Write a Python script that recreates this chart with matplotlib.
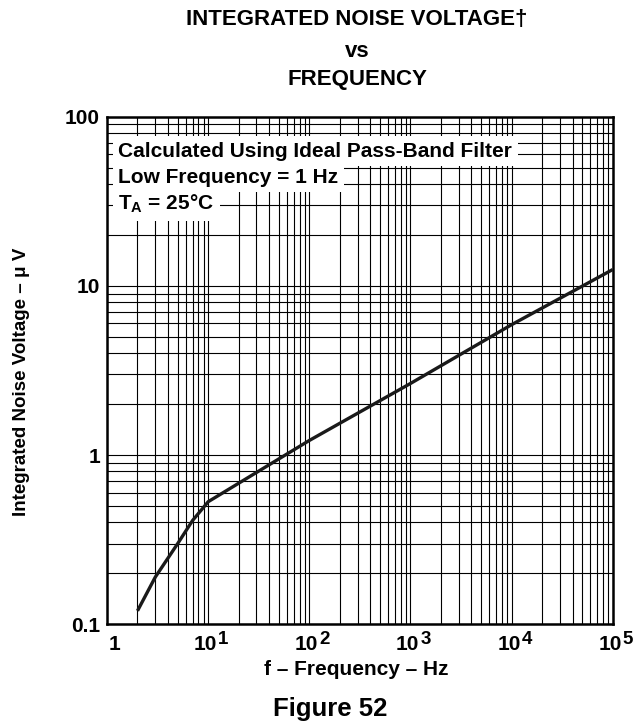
import matplotlib
matplotlib.use("Agg")
import matplotlib.pyplot as plt
from matplotlib.ticker import FixedLocator, NullFormatter, LogLocator
from matplotlib.transforms import blended_transform_factory, offset_copy

plt.rcParams['font.family'] = ['Liberation Sans', 'DejaVu Sans']
plt.rcParams['font.weight'] = 'bold'
plt.rcParams['mathtext.fontset'] = 'custom'
plt.rcParams['mathtext.rm'] = 'Liberation Sans:bold'
plt.rcParams['mathtext.bf'] = 'Liberation Sans:bold'
plt.rcParams['mathtext.it'] = 'Liberation Sans:bold'

# integrated noise voltage (uV) vs frequency (Hz)
freq = [2, 3, 5, 7, 10, 100, 1000, 1e4, 1e5]
noise = [0.12, 0.19, 0.30, 0.41, 0.53, 1.22, 2.65, 5.9, 12.5]

xticks = [1, 10, 100, 1000, 1e4, 1e5]
xbase = ['1', '10', '10', '10', '10', '10']
xexp = ['', '1', '2', '3', '4', '5']
yticks = [0.1, 1, 10, 100]
ylabels = ['0.1', '1', '10', '100']

note_lines = ['Calculated Using Ideal Pass-Band Filter',
              'Low Frequency = 1 Hz',
              r'T$_{\mathrm{A}}$ = 25°C']

fig = plt.figure(figsize=(6.41, 7.25), dpi=100)
ax = fig.add_axes([0.167, 0.139, 0.789, 0.700])

ax.set_xscale('log')
ax.set_yscale('log')
ax.set_xlim(1, 1e5)
ax.set_ylim(0.1, 100)

ax.xaxis.set_major_locator(FixedLocator(xticks))
ax.xaxis.set_minor_locator(LogLocator(base=10, subs=range(2, 10), numticks=20))
ax.yaxis.set_major_locator(FixedLocator(yticks))
ax.yaxis.set_minor_locator(LogLocator(base=10, subs=range(2, 10), numticks=20))
ax.set_xticklabels([])
ax.set_yticklabels(ylabels)
ax.xaxis.set_minor_formatter(NullFormatter())
ax.yaxis.set_minor_formatter(NullFormatter())
ax.tick_params(which='both', length=0)
ax.tick_params(axis='y', labelsize=15, pad=5)

# x tick labels: "10" with a big raised exponent, like the datasheet
tr = blended_transform_factory(ax.transData, ax.transAxes)
for xv, b, e in zip(xticks, xbase, xexp):
    if e == '':
        ax.text(xv, 0, b, transform=offset_copy(tr, fig, x=7, y=-20, units='dots'),
                ha='center', va='center', fontsize=15, fontweight='bold')
    else:
        ax.text(xv, 0, b, transform=offset_copy(tr, fig, x=9, y=-20, units='dots'),
                ha='right', va='center', fontsize=15, fontweight='bold')
        ax.text(xv, 0, e, transform=offset_copy(tr, fig, x=10, y=-15, units='dots'),
                ha='left', va='center', fontsize=13.5, fontweight='bold')

ax.set_axisbelow(True)
ax.grid(True, which='both', color='black', linewidth=0.8)
for s in ax.spines.values():
    s.set_linewidth(1.8)

ax.plot(freq, noise, color='#1a1a1a', linewidth=2.4, solid_capstyle='butt', zorder=4)

ys = [0.921, 0.870, 0.817]
for txt, yy in zip(note_lines, ys):
    ax.text(0.022, yy, txt, transform=ax.transAxes, fontsize=15, fontweight='bold',
            va='baseline', ha='left',
            bbox=dict(facecolor='white', edgecolor='none', pad=4))

fig.text(0.034, 0.473, 'Integrated Noise Voltage – μ V', rotation=90,
         ha='center', va='center', fontsize=13.5, fontweight='bold')
fig.text(0.555, 0.076, 'f – Frequency – Hz', ha='center', va='center',
         fontsize=15, fontweight='bold')

cx = 0.557
fig.text(cx, 0.973, 'INTEGRATED NOISE VOLTAGE†', ha='center', va='center', fontsize=16, fontweight='bold')
fig.text(cx, 0.929, 'vs', ha='center', va='center', fontsize=16, fontweight='bold')
fig.text(cx, 0.890, 'FREQUENCY', ha='center', va='center', fontsize=16, fontweight='bold')
fig.text(0.515, 0.022, 'Figure 52', ha='center', va='center', fontsize=18.5, fontweight='bold')

fig.savefig('out.png', dpi=100)
